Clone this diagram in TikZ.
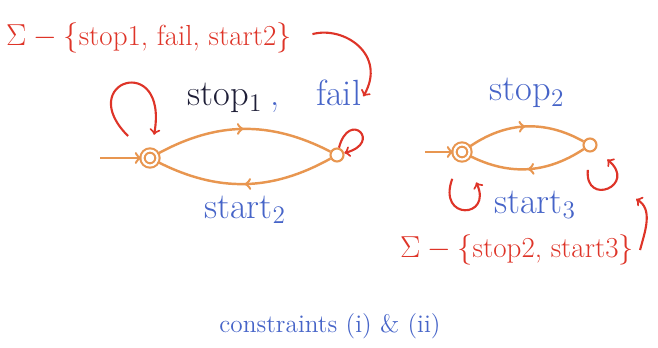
\documentclass[tikz,border=0pt]{standalone}
\usepackage{amsmath}
\usepackage{tikz}
\usetikzlibrary{calc,positioning,decorations.markings}

\definecolor{penorange}{RGB}{232,150,80}
\definecolor{penred}{RGB}{222,52,40}
\definecolor{penblue}{RGB}{70,100,200}
\definecolor{penink}{RGB}{30,30,55}

\begin{document}
\begin{tikzpicture}[font=\huge,
    stnode/.style={draw=penorange, line width=1.2pt, circle, inner sep=0pt, minimum size=0.26cm},
    initnode/.style={stnode, double, double distance=1.2pt, minimum size=0.3cm},
    edgeline/.style={draw=penorange, line width=1.4pt},
    midarrow/.style={postaction={decorate}, decoration={markings, mark=at position 0.5 with {\arrow{>}}}},
    redarr/.style={draw=penred, line width=1.2pt, ->},
    settxt/.style={text=penred, font=\fontsize{16.5}{20}\selectfont},
    bluetxt/.style={text=penblue}]
  \useasboundingbox (0,0) rectangle (13.16,6.96);

  % first automaton
  \node[initnode] (p0) at (3.0,3.8) {};
  \node[stnode] (p1) at (6.74,3.86) {};
  \coordinate (p0in) at (2.0,3.8);
  \draw[edgeline, ->] (p0in) -- (p0);
  \draw[edgeline, midarrow] (p0) to[bend left=28] (p1);
  \draw[edgeline, midarrow] (p1) to[bend left=28] (p0);
  \node[text=penink] (stopA) at (4.5,5.0) {stop$_1$};
  \node[bluetxt, anchor=base west, inner sep=1pt] (failA) at (stopA.base east) {,\quad fail};
  \node[bluetxt] (startA) at (4.9,2.76) {start$_2$};

  % second automaton
  \node[initnode] (q0) at (9.24,3.92) {};
  \node[stnode] (q1) at (11.8,4.06) {};
  \coordinate (q0in) at (8.5,3.92);
  \draw[edgeline, ->] (q0in) -- (q0);
  \draw[edgeline, midarrow] (q0) to[bend left=32] (q1);
  \draw[edgeline, midarrow] (q1) to[bend left=30] (q0);
  \node[bluetxt] (stopB) at (10.54,5.1) {stop$_2$};
  \node[bluetxt] (startB) at (10.7,2.86) {start$_3$};

  % self loops in red
  \draw[redarr, shorten <=0.45cm, shorten >=0.3cm] (p0) to[out=135, in=80, min distance=2cm] (p0);
  \draw[redarr] (p1) to[out=75, in=15, min distance=0.8cm] (p1);
  \draw[redarr, shorten <=0.4cm, shorten >=0.5cm] (q0) to[out=250, in=295, min distance=1.3cm] (q0);
  \draw[redarr, shorten <=0.35cm, shorten >=0.3cm] (q1) to[out=265, in=320, min distance=1.1cm] (q1);

  % sets
  \node[settxt] (setA) at (2.98,6.2) {$\Sigma-\{$stop1, fail, start2$\}$};
  \node[settxt] (setB) at (10.34,1.96) {$\Sigma-\{$stop2, start3$\}$};
  \coordinate (tipB) at (12.72,2.98);
  \draw[redarr, shorten <=0.3cm] (setA.east) to[out=15, in=60, looseness=1.4] (failA.east);
  \draw[redarr] (setB.east) to[out=75, in=-30] (tipB);

  \node[bluetxt, font=\Large] (note) at (6.6,0.44) {constraints (i) \& (ii)};
\end{tikzpicture}
\end{document}
